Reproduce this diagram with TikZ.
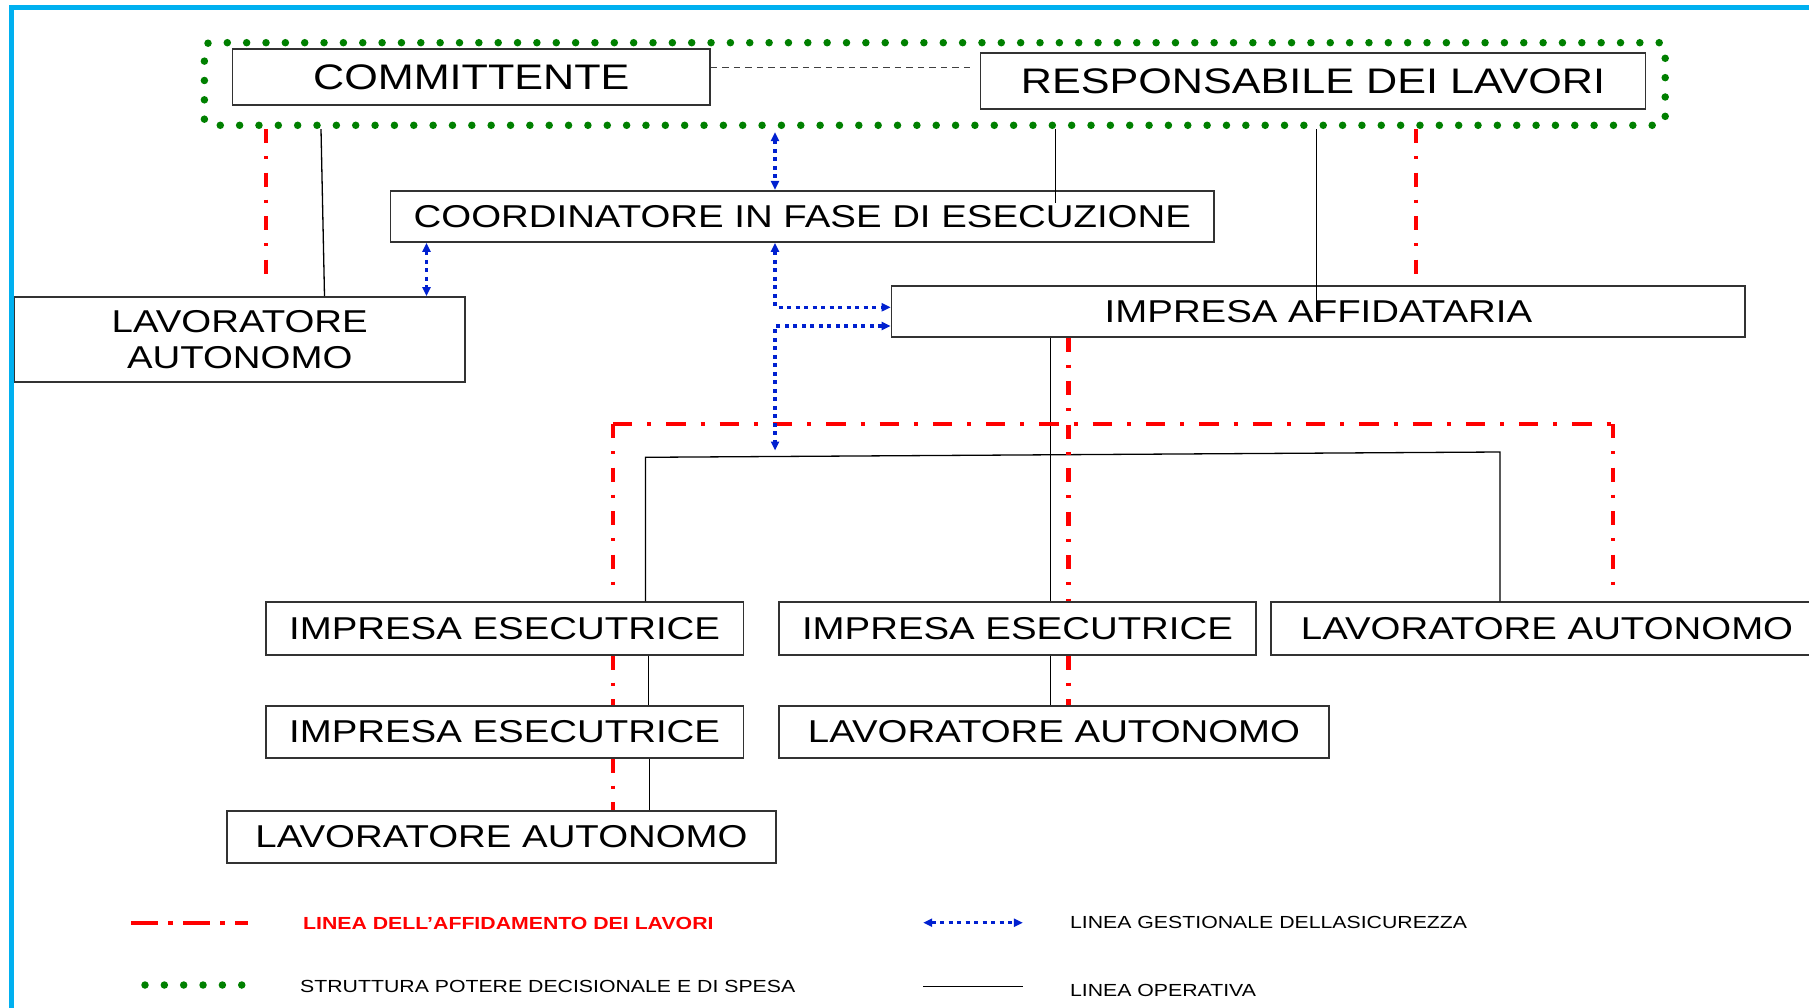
\documentclass[tikz,border=0pt]{standalone}
\usepackage{fontspec}
\setmainfont{Liberation Sans}[FakeStretch=1.215]
\usetikzlibrary{arrows.meta}
\definecolor{cyanb}{RGB}{0,176,240}
\definecolor{strutgreen}{RGB}{0,128,0}
\definecolor{gesblue}{RGB}{0,32,208}
\definecolor{affred}{RGB}{255,0,0}
\definecolor{boxc}{RGB}{50,50,50}
\newcommand\szBig{\fontsize{35.5pt}{40pt}\selectfont}
\newcommand\szMid{\fontsize{31.6pt}{35.6pt}\selectfont}
\newcommand\szLeg{\fontsize{17.5pt}{20pt}\selectfont}
\begin{document}
\begin{tikzpicture}[x=1pt,y=-1pt,
  gtip/.tip={Triangle[length=9pt,width=8pt]},
  box/.style={draw=boxc, line width=1.8pt, inner sep=0pt, align=center, font=\szMid},
  aff/.style={draw=affred, line width=4.6pt, dash pattern=on 14pt off 13pt on 3pt off 13.5pt},
  affh/.style={draw=affred, line width=4.2pt, dash pattern=on 19.3pt off 15pt on 4pt off 15pt},
  legaff/.style={draw=affred, line width=4pt, dash pattern=on 27pt off 10pt on 5pt off 10pt},
  ope/.style={draw=black, line width=1.3pt},
  ges/.style={draw=gesblue, line width=3.5pt, dash pattern=on 4pt off 4.5pt, gtip-gtip},
  strut/.style={draw=strutgreen, line width=7.5pt, line cap=round, dash pattern=on 0pt off 19.35pt},
  dsh/.style={draw=black!75, line width=1.2pt, dash pattern=on 6.5pt off 5pt},
  legtxt/.style={anchor=base west, inner sep=0pt, font=\szLeg},
  cyanframe/.style={draw=cyanb, line width=5pt}
]
\useasboundingbox (0,0) rectangle (1809,1008);
\fill[white] (0,0) rectangle (1809,1008);
\clip (0,0) rectangle (1809,1008);

% frame
\draw[cyanframe] (11.5,1012) -- (11.5,7.3) -- (1815,7.3);

% decision structure group
\node[strut, minimum width=1460.8pt, minimum height=82.6pt, rounded corners=6pt, inner sep=0pt] (grp) at (934.8,84) {};

% boxes
\node[box, font=\szBig, minimum width=477.5pt, minimum height=56pt] (comm) at (471.3,77) {COMMITTENTE};
\node[box, font=\szBig, minimum width=664.9pt, minimum height=56.3pt] (resp) at (1313,80.9) {RESPONSABILE DEI LAVORI};
\node[box, minimum width=823.8pt, minimum height=51.3pt] (coord) at (802.3,216.4) {COORDINATORE IN FASE DI ESECUZIONE};
\node[box, minimum width=450.6pt, minimum height=85.3pt] (lavA) at (239.7,339.6) {LAVORATORE\\AUTONOMO};
\node[box, minimum width=853.7pt, minimum height=51pt] (affid) at (1318.4,311.2) {IMPRESA AFFIDATARIA};
\node[box, minimum width=477.6pt, minimum height=52.4pt] (ie1) at (504.6,628.5) {IMPRESA ESECUTRICE};
\node[box, minimum width=477.6pt, minimum height=52pt] (ie2) at (504.6,731.7) {IMPRESA ESECUTRICE};
\node[box, minimum width=549.3pt, minimum height=52pt] (laB) at (501.5,836.7) {LAVORATORE AUTONOMO};
\node[box, minimum width=476.9pt, minimum height=52.4pt] (ieM) at (1017.5,628.5) {IMPRESA ESECUTRICE};
\node[box, minimum width=550pt, minimum height=52pt] (laM) at (1054,731.7) {LAVORATORE AUTONOMO};
\node[box, minimum width=552pt, minimum height=52.4pt] (laR) at (1547,628.5) {LAVORATORE AUTONOMO};

% helper coordinates
\coordinate (xa) at (265.8,0);
\coordinate (xb) at (1416,0);
\coordinate (xc) at (1068.7,0);
\coordinate (rbarL) at (613,424);
\coordinate (rbarR) at (1613,424);
\coordinate (ka) at (321,0);
\coordinate (kb) at (324.5,0);
\coordinate (k2end) at (1055.4,203.5);
\coordinate (k3end) at (1316.2,321);
\coordinate (kx) at (1050.7,0);
\coordinate (hbL) at (645.5,457.3);
\coordinate (hbR) at (1500,452);
\coordinate (k6) at (648.7,0);
\coordinate (k7) at (649.8,0);
\coordinate (bx1) at (775,0);
\coordinate (bx2) at (426.5,0);
\coordinate (b3c) at (775,307.3);
\coordinate (b4c) at (775,326);
\coordinate (b4e) at (775,450.5);

% dashed link
\draw[dsh] ([yshift=9.3pt]comm.east) -- ([xshift=-10pt,yshift=13.2pt]resp.west);

% operative lines
\draw[ope] (grp.south -| ka) -- (lavA.north -| kb);
\draw[ope] (grp.south -| k2end) -- (k2end);
\draw[ope] (grp.south -| k3end) -- (k3end);
\draw[ope] (affid.south -| kx) -- (ieM.north -| kx);
\draw[ope] (ie1.north -| hbL) -- (hbL) -- (hbR) -- (laR.north -| hbR);
\draw[ope] (ie1.south -| k6) -- (ie2.north -| k6);
\draw[ope] (ie2.south -| k7) -- (laB.north -| k7);
\draw[ope] (ieM.south -| kx) -- (laM.north -| kx);

% affidamento lines
\draw[aff, shorten >=10.7pt] (grp.south -| xa) -- (lavA.north -| xa);
\draw[aff, shorten >=2.7pt] (grp.south -| xb) -- (affid.north -| xb);
\draw[aff] (affid.south -| xc) -- (ieM.north -| xc);
\draw[affh] (rbarL) -- (rbarR);
\draw[aff, shorten >=11pt] (rbarL) -- (ie1.north -| rbarL);
\draw[aff, shorten >=11pt] (rbarR) -- (laR.north -| rbarR);
\draw[aff] (ie1.south -| rbarL) -- (ie2.north -| rbarL);
\draw[aff] (ie2.south -| rbarL) -- (laB.north -| rbarL);
\draw[aff] (ieM.south -| xc) -- (laM.north -| xc);

% safety management lines
\draw[ges, shorten <=3pt] (grp.south -| bx1) -- (coord.north -| bx1);
\draw[ges] (coord.south -| bx2) -- (lavA.north -| bx2);
\draw[ges] (coord.south -| b3c) -- (b3c) -- (affid.west |- b3c);
\draw[ges] (affid.west |- b4c) -- (b4c) -- (b4e);

% legend
\draw[legaff] (131,922.7) -- (248,922.7);
\draw[strut] (145,985) -- (245,985);
\draw[ges] (923.2,922.7) -- (1022.9,922.7);
\draw[ope] (923.2,986.7) -- (1022.9,986.7);
\node[legtxt, text=affred, font=\szLeg\bfseries] (l1) at (303,929) {LINEA DELL’AFFIDAMENTO DEI LAVORI};
\node[legtxt] (l2) at (300,992.3) {STRUTTURA POTERE DECISIONALE E DI SPESA};
\node[legtxt] (l3) at (1069.9,928.3) {LINEA GESTIONALE DELLASICUREZZA};
\node[legtxt] (l4) at (1069.9,996) {LINEA OPERATIVA};
\end{tikzpicture}
\end{document}
